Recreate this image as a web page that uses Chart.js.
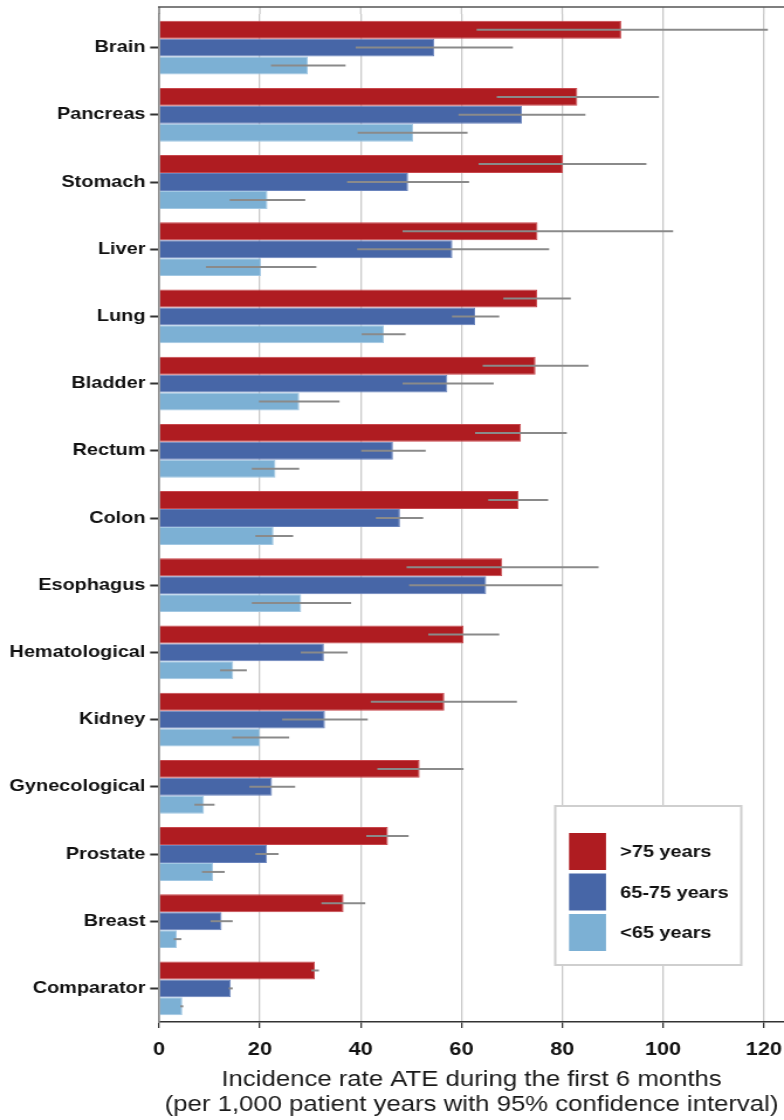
<!DOCTYPE html>
<html>
<head>
<meta charset="utf-8">
<script src="https://cdn.jsdelivr.net/npm/chart.js@4/dist/chart.umd.min.js"></script>
<style>
  html, body { margin: 0; padding: 0; background: #fff; overflow: hidden; }
  #wrap { width: 784px; height: 1120px; position: relative; overflow: hidden; }
  /* the figure is laid out on a narrower canvas and widened to 784px,
     which gives the wide lettering of the printed figure */
  #ateChart { transform: scaleX(1.1701); transform-origin: 0 0; }
</style>
</head>
<body>
<div id="wrap"><canvas id="ateChart" width="670" height="1120"></canvas></div>
<script>
  const categories = ['Brain', 'Pancreas', 'Stomach', 'Liver', 'Lung', 'Bladder', 'Rectum', 'Colon',
    'Esophagus', 'Hematological', 'Kidney', 'Gynecological', 'Prostate', 'Breast', 'Comparator'];

  // incidence rate per 1,000 patient years, with 95% CI bounds
  const over75 = [91.7, 83.0, 80.1, 75.1, 75.0, 74.7, 71.8, 71.3, 68.1, 60.4, 56.6, 51.7, 45.4, 36.6, 30.9];
  const over75Low = [63.0, 67.0, 63.4, 48.3, 68.3, 64.2, 62.7, 65.3, 49.1, 53.4, 42.0, 43.3, 41.1, 32.2, 30.2];
  const over75High = [120.8, 99.2, 96.7, 102.0, 81.7, 85.2, 80.9, 77.2, 87.2, 67.5, 71.0, 60.4, 49.5, 40.9, 31.7];

  const age65to75 = [54.6, 72.0, 49.4, 58.2, 62.7, 57.2, 46.4, 47.8, 64.9, 32.7, 32.9, 22.4, 21.4, 12.4, 14.2];
  const age65to75Low = [39.0, 59.4, 37.3, 39.3, 58.1, 48.3, 40.1, 43.0, 49.6, 28.1, 24.4, 17.9, 19.1, 10.2, 13.8];
  const age65to75High = [70.2, 84.6, 61.5, 77.4, 67.5, 66.4, 52.9, 52.4, 80.0, 37.4, 41.4, 27.0, 23.7, 14.6, 14.6];

  const under65 = [29.5, 50.4, 21.5, 20.2, 44.6, 27.8, 23.1, 22.7, 28.2, 14.7, 20.0, 8.9, 10.7, 3.5, 4.6];
  const under65Low = [22.2, 39.4, 14.0, 9.3, 40.2, 19.8, 18.4, 19.1, 18.4, 12.1, 14.5, 7.0, 8.5, 2.9, 4.2];
  const under65High = [37.0, 61.2, 29.0, 31.2, 48.9, 35.8, 27.8, 26.6, 38.1, 17.4, 25.8, 11.0, 13.0, 4.4, 4.8];

  const xTicks = [0, 20, 40, 60, 80, 100, 120];
  const seriesLabels = ['>75 years', '65-75 years', '<65 years'];

  const FONT = "'Liberation Sans', Arial, sans-serif";

  // confidence interval whiskers (no end caps), drawn over every bar
  const ciPlugin = {
    id: 'ciLines',
    afterDatasetsDraw(chart) {
      const ctx = chart.ctx;
      const x = chart.scales.x;
      ctx.save();
      ctx.strokeStyle = '#8a8a8a';
      ctx.lineWidth = 2;
      chart.data.datasets.forEach((ds, i) => {
        const meta = chart.getDatasetMeta(i);
        meta.data.forEach((bar, j) => {
          const lo = x.getPixelForValue(ds.ciLow[j]);
          const hi = x.getPixelForValue(ds.ciHigh[j]);
          ctx.beginPath();
          ctx.moveTo(lo, bar.y);
          ctx.lineTo(hi, bar.y);
          ctx.stroke();
        });
      });
      ctx.restore();
    }
  };

  // frame line above the plot plus grid stubs reaching up to it, and the boxed legend
  const framePlugin = {
    id: 'frameAndLegend',
    beforeDatasetsDraw(chart) {
      const ctx = chart.ctx;
      const area = chart.chartArea;
      const x = chart.scales.x;
      const frameY = area.top - 7;
      ctx.save();
      ctx.strokeStyle = '#c9c9c9';
      ctx.lineWidth = 1.3;
      xTicks.slice(1).forEach(v => {
        const px = x.getPixelForValue(v);
        ctx.beginPath();
        ctx.moveTo(px, frameY);
        ctx.lineTo(px, area.top);
        ctx.stroke();
      });
      ctx.strokeStyle = '#8c8c8c';
      ctx.lineWidth = 1.7;
      ctx.beginPath();
      ctx.moveTo(area.left, frameY);
      ctx.lineTo(area.left, area.top);
      ctx.stroke();
      ctx.strokeStyle = '#555';
      ctx.lineWidth = 1.5;
      ctx.beginPath();
      ctx.moveTo(area.left - 1, frameY);
      ctx.lineTo(area.right, frameY);
      ctx.stroke();
      ctx.restore();
    },
    afterDraw(chart) {
      const ctx = chart.ctx;
      const bx = 474.5, by = 806, bw = 159, bh = 159;
      ctx.save();
      ctx.fillStyle = '#fff';
      ctx.fillRect(bx, by, bw, bh);
      ctx.strokeStyle = '#cfcfcf';
      ctx.lineWidth = 2;
      ctx.strokeRect(bx, by, bw, bh);
      ctx.font = 'bold 17px ' + FONT;
      ctx.textBaseline = 'middle';
      chart.data.datasets.forEach((ds, i) => {
        const sy = 833 + i * 40.5;
        ctx.fillStyle = ds.backgroundColor;
        ctx.fillRect(486.3, sy, 31.6, 37);
        ctx.fillStyle = '#111';
        ctx.fillText(ds.label, 530, sy + 19.5);
      });
      ctx.restore();
    }
  };

  new Chart(document.getElementById('ateChart'), {
    type: 'bar',
    data: {
      labels: categories,
      datasets: [
        { label: seriesLabels[0], data: over75, ciLow: over75Low, ciHigh: over75High,
          backgroundColor: '#af1c21', borderColor: '#c8484d', borderWidth: 1 },
        { label: seriesLabels[1], data: age65to75, ciLow: age65to75Low, ciHigh: age65to75High,
          backgroundColor: '#4766a7', borderColor: '#6a84bd', borderWidth: 1 },
        { label: seriesLabels[2], data: under65, ciLow: under65Low, ciHigh: under65High,
          backgroundColor: '#7cb0d4', borderColor: '#a2c8e3', borderWidth: 1 }
      ]
    },
    options: {
      indexAxis: 'y',
      responsive: false,
      animation: false,
      categoryPercentage: 0.8,
      barPercentage: 1.0,
      layout: { padding: { top: 14, right: 0, bottom: 0, left: 0 } },
      plugins: {
        legend: { display: false },
        tooltip: { enabled: false }
      },
      scales: {
        x: {
          type: 'linear',
          min: 0,
          max: 124,
          afterBuildTicks: (scale) => {
            scale.ticks = xTicks.map(v => ({ value: v }));
          },
          afterFit: (scale) => {
            scale.height = 98;
            scale.paddingLeft = 0;
            scale.paddingRight = 0;
          },
          grid: {
            color: '#c9c9c9',
            lineWidth: 1.3,
            tickColor: '#333',
            tickLength: 6,
            tickWidth: 1.3
          },
          border: { color: '#333', width: 1.5 },
          ticks: {
            color: '#111',
            padding: 11,
            font: { family: FONT, size: 18.5, weight: 'bold' }
          },
          title: {
            display: true,
            text: ['Incidence rate ATE during the first 6 months',
                   '(per 1,000 patient years with 95% confidence interval)'],
            color: '#1a1a1a',
            font: { family: FONT, size: 22, lineHeight: 1.15 },
            padding: { top: 0, bottom: 2 }
          }
        },
        y: {
          type: 'category',
          afterFit: (scale) => {
            scale.width = 136;
            scale.paddingTop = 0;
            scale.paddingBottom = 0;
          },
          grid: {
            offset: false,
            drawOnChartArea: false,
            drawTicks: true,
            tickLength: 7.7,
            tickColor: '#333',
            tickWidth: 2
          },
          border: { color: '#8c8c8c', width: 1.7 },
          ticks: {
            color: '#111',
            padding: 4,
            font: { family: FONT, size: 17, weight: 'bold' }
          }
        }
      }
    },
    plugins: [framePlugin, ciPlugin]
  });
</script>
</body>
</html>
